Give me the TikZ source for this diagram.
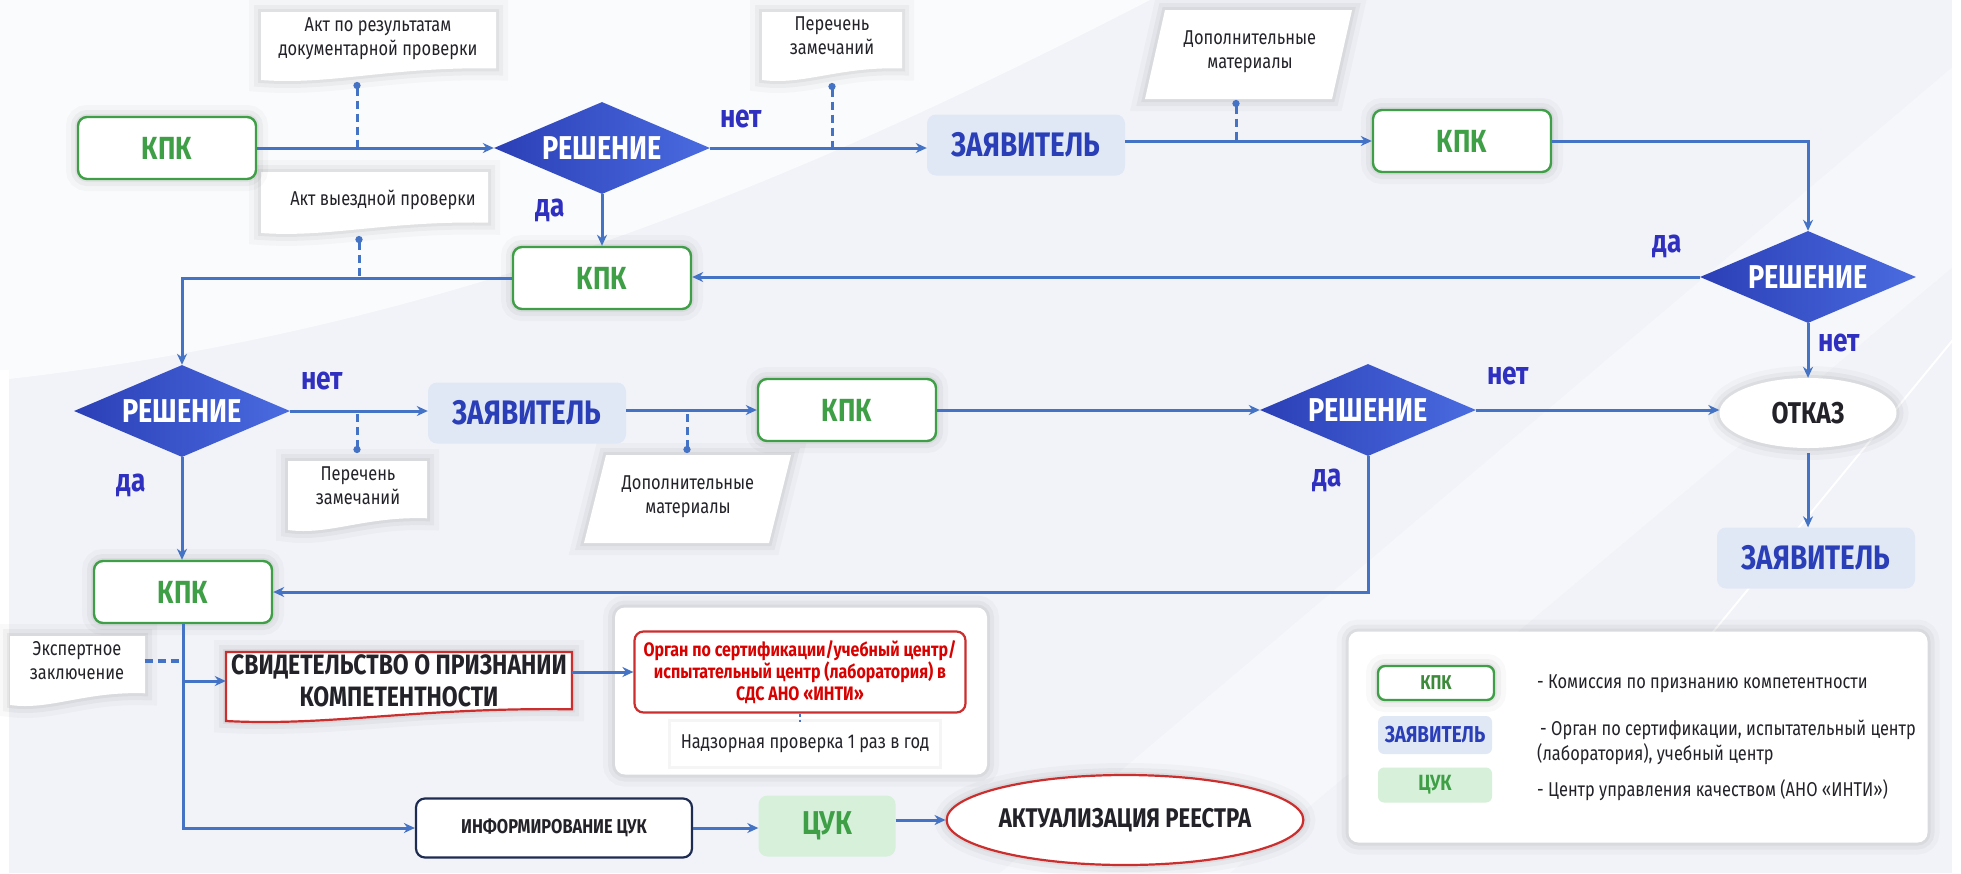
\documentclass[tikz,border=0pt]{standalone}
\usepackage{fontspec}
\setmainfont{Fira Sans}[FakeStretch=0.82]
\usetikzlibrary{shapes.geometric,arrows.meta,calc}
\pgfdeclarelayer{bg}
\pgfdeclarelayer{mid}
\pgfsetlayers{bg,mid,main}
\definecolor{bgc}{HTML}{F1F3F8}
\definecolor{lineblue}{HTML}{4472C4}
\definecolor{kgreen}{HTML}{3F9F46}
\definecolor{lgreen}{HTML}{3C8A3A}
\definecolor{zvfill}{HTML}{E1E8F5}
\definecolor{zvtext}{HTML}{2A3EB8}
\definecolor{labblue}{HTML}{2F2FC0}
\definecolor{dleft}{HTML}{2B3FB6}
\definecolor{dright}{HTML}{4A6BE0}
\definecolor{cukfill}{HTML}{D6F0DA}
\definecolor{redb}{HTML}{CC2E2E}
\definecolor{navy}{HTML}{1F2C52}
\definecolor{txt}{HTML}{222228}
\newcommand{\docbg}[5]{%
  \path[#5] (#1,#2) -- (#3,#2) -- (#3,{#4-0.17*(#4-#2)})
    .. controls ({#1+0.55*(#3-#1)},{#4-0.2*(#4-#2)}) and ({#1+0.3*(#3-#1)},{#4+0.08*(#4-#2)}) .. (#1,#4) -- cycle;}
\newcommand{\parabg}[6]{%
  \path[#6] (#1,#2) -- (#3,#2) -- ({#3-#5},#4) -- ({#1-#5},#4) -- cycle;}
\begin{document}
\begin{tikzpicture}[x=1pt,y=-1pt,
  soft/.style={preaction={draw=black,draw opacity=0.025,line width=24pt},
               preaction={draw=black,draw opacity=0.035,line width=14pt},
               preaction={draw=black,draw opacity=0.045,line width=6pt}},
  kpk/.style={rectangle, rounded corners=9pt, draw=kgreen, line width=2.4pt, fill=white, soft,
              minimum width=178pt, minimum height=62pt, inner sep=0pt, text=kgreen,
              font=\bfseries\fontsize{32}{36}\selectfont},
  zv/.style={rectangle, rounded corners=9pt, fill=zvfill, minimum width=198pt, minimum height=61pt,
             inner sep=0pt, text=zvtext, font=\bfseries\fontsize{34}{38}\selectfont},
  dec/.style={diamond, aspect=2.35, inner sep=0pt, minimum width=216pt, minimum height=92pt,
              left color=dleft, right color=dright, text=white, font=\bfseries\fontsize{33}{36}\selectfont},
  otk/.style={ellipse, fill=white, soft, minimum width=177pt, minimum height=70pt, inner sep=0pt,
              text=txt, font=\bfseries\fontsize{30}{34}\selectfont},
  lab/.style={text=labblue, font=\bfseries\fontsize{32}{34}\selectfont, inner sep=0pt},
  note/.style={text=txt, font=\fontsize{20}{24}\selectfont, align=center, inner sep=0pt},
  legtxt/.style={text=txt, font=\fontsize{20}{25}\selectfont, align=left, inner sep=0pt, anchor=west},
  arr/.style={draw=lineblue, line width=3pt, -{Stealth[length=11pt,width=10pt]}},
  dsh/.style={draw=lineblue, line width=3pt, dash pattern=on 8pt off 5pt, {Circle[length=7pt]}-},
  panel/.style={rectangle, rounded corners=10pt, fill=white, soft, inner sep=0pt},
  cukbox/.style={rectangle, rounded corners=9pt, fill=cukfill, inner sep=0pt, text=kgreen,
                 font=\bfseries\fontsize{33}{38}\selectfont, minimum width=137pt, minimum height=61pt}
]
\useasboundingbox (0,0) rectangle (1961,873);
% ---------- background ----------
\begin{pgfonlayer}{bg}
  \fill[bgc] (0,0) rectangle (1961,873);
  \fill[white,opacity=0.7] (0,0) -- (1150,0) .. controls (800,180) and (450,330) .. (0,380) -- cycle;
  \fill[white,opacity=0.35] (1000,873) -- (1961,60) -- (1961,260) -- (1230,873) -- cycle;
  \draw[white,line width=2pt] (1690,660) -- (1961,330);
  \fill[white] (0,370) rectangle (9,873);
  \fill[white] (1952,0) rectangle (1961,873);
\end{pgfonlayer}
% ---------- note shapes ----------
\begin{pgfonlayer}{mid}
  \docbg{261}{12}{496}{80}{fill=white,soft}
  \docbg{762}{12}{902}{80}{fill=white,soft}
  \parabg{1165}{10}{1352}{99}{20}{fill=white,soft}
  \docbg{261}{172}{488}{233}{fill=white,soft}
  \docbg{288}{461}{427}{530}{fill=white,soft}
  \parabg{606}{455}{791}{543}{22}{fill=white,soft}
  \docbg{10}{636}{145}{705}{fill=white,soft}
  \docbg{226}{652}{572}{721}{fill=white,draw=redb,line width=2.2pt,soft}
\end{pgfonlayer}
% ---------- main nodes ----------
\node[kpk] (kpk1) at (167,148) {КПК};
\node[dec] (d1) at (602,148) {РЕШЕНИЕ};
\node[zv] (zv1) at (1026,145) {ЗАЯВИТЕЛЬ};
\node[kpk] (kpk2) at (1462,141) {КПК};
\node[dec] (d2) at (1808,277) {РЕШЕНИЕ};
\node[kpk] (kpk3) at (602,278) {КПК};
\node[dec] (d3) at (182,411) {РЕШЕНИЕ};
\node[zv] (zv2) at (527,413) {ЗАЯВИТЕЛЬ};
\node[kpk] (kpk4) at (847,410) {КПК};
\node[dec] (d4) at (1368,410) {РЕШЕНИЕ};
\node[otk] (otkaz) at (1808,413) {ОТКАЗ};
\node[zv] (zv3) at (1816,558) {ЗАЯВИТЕЛЬ};
\node[kpk] (kpk5) at (183,592) {КПК};
% labels
\node[lab] (l1) at (741,119) {нет};
\node[lab] (l2) at (550,210) {да};
\node[lab] (l3) at (1667,246) {да};
\node[lab] (l4) at (1839,343) {нет};
\node[lab] (l5) at (322,381) {нет};
\node[lab] (l6) at (131,485) {да};
\node[lab] (l7) at (1508,376) {нет};
\node[lab] (l8) at (1327,480) {да};
% notes
\node[note] (n1) at (378,39) {Акт по результатам\\документарной проверки};
\node[note] (n2) at (832,36) {Перечень\\замечаний};
\node[note] (n3) at (1250,52) {Дополнительные\\материалы};
\node[note] (n4) at (383,200) {Акт выездной проверки};
\node[note] (n5) at (358,486) {Перечень\\замечаний};
\node[note] (n6) at (688,497) {Дополнительные\\материалы};
\node[note, minimum width=135pt] (n7) at (77,661) {Экспертное\\заключение};
% bottom part
\node[inner sep=0pt, minimum width=346pt, align=center, text=txt,
      font=\bfseries\fontsize{28}{32}\selectfont] (svid) at (399,681) {СВИДЕТЕЛЬСТВО О ПРИЗНАНИИ\\КОМПЕТЕНТНОСТИ};
\node[panel, minimum width=372pt, minimum height=167pt] (pnl) at (801,691) {};
\node[rectangle, rounded corners=9pt, draw=redb, line width=2.2pt, fill=white, minimum width=331pt,
      minimum height=81pt, inner sep=0pt, align=center, text=red!85!black,
      font=\bfseries\fontsize{19.5}{22}\selectfont] (organ) at (800,672)
      {Орган по сертификации/учебный центр/\\испытательный центр (лаборатория) в\\СДС АНО «ИНТИ»};
\node[rectangle, fill=white, preaction={draw=black,draw opacity=0.04,line width=6pt},
      minimum width=268pt, minimum height=44pt, inner sep=0pt, text=txt,
      font=\fontsize{20}{24}\selectfont] (nadz) at (805,744) {Надзорная проверка 1 раз в год};
\node[rectangle, rounded corners=9pt, draw=navy, line width=2.2pt, fill=white, minimum width=276pt,
      minimum height=59pt, inner sep=0pt, text=txt, font=\bfseries\fontsize{20}{24}\selectfont] (inf)
      at (554,828) {ИНФОРМИРОВАНИЕ ЦУК};
\node[cukbox] (cuk) at (827,826) {ЦУК};
\node[ellipse, draw=redb, line width=2.2pt, fill=white, soft, minimum width=319pt, minimum height=90pt,
      inner sep=0pt, text=txt, font=\bfseries\fontsize{27}{30}\selectfont] (akt) at (1125,820)
      {АКТУАЛИЗАЦИЯ РЕЕСТРА};
% legend
\node[panel, minimum width=579pt, minimum height=211pt] (leg) at (1638,737) {};
\node[kpk, minimum width=116pt, minimum height=34pt, rounded corners=7pt, text=lgreen,
      font=\bfseries\fontsize{20}{24}\selectfont] (lk) at (1436,683) {КПК};
\node[zv, minimum width=114pt, minimum height=38pt, rounded corners=6pt,
      font=\bfseries\fontsize{23}{26}\selectfont] (lz) at (1435,735) {ЗАЯВИТЕЛЬ};
\node[cukbox, minimum width=114pt, minimum height=35pt, rounded corners=6pt,
      font=\bfseries\fontsize{22}{26}\selectfont] (lc) at (1435,785) {ЦУК};
\node[legtxt] (t1) at (1537,684) {- Комиссия по признанию компетентности};
\node[legtxt] (t2) at (1537,742) {\hspace{3pt}- Орган по сертификации, испытательный центр\\(лаборатория), учебный центр};
\node[legtxt] (t3) at (1537,790) {- Центр управления качеством (АНО «ИНТИ»)};
% ---------- connectors ----------
\draw[arr] (kpk1.east) -- (d1.west);
\draw[arr] (d1.east) -- (d1.east -| zv1.west);
\draw[arr] (zv1.east |- kpk2.west) -- (kpk2.west);
\draw[arr] (kpk2.east) -| (d2.north);
\draw[arr] (d2.west) -- (d2.west -| kpk3.east);
\draw[arr] (d1.south) -- (kpk3.north);
\draw[arr] (kpk3.west) -| (d3.north);
\draw[arr] (d2.south) -- (otkaz.north);
\draw[arr] (d3.east) -- (d3.east -| zv2.west);
\draw[arr] (zv2.east |- kpk4.west) -- (kpk4.west);
\draw[arr] (kpk4.east) -- (d4.west);
\draw[arr] (d4.east) -- (d4.east -| otkaz.west);
\draw[arr] ([yshift=-5pt]otkaz.south) -- (otkaz.south |- zv3.north);
\draw[arr] (d3.south) -- (d3.south |- kpk5.north);
\draw[arr] (d4.south) |- (kpk5.east);
\draw[arr] (kpk5.south) |- (inf.west);
\draw[arr] (kpk5.south |- svid.west) -- (svid.west);
\draw[arr] (svid.east |- organ.west) -- (organ.west);
\draw[draw=lineblue, line width=2.4pt, dash pattern=on 3pt off 3pt] (organ.south) -- (organ.south |- nadz.north);
\draw[arr] (inf.east) -- (inf.east -| cuk.west);
\draw[arr] (cuk.east |- akt.west) -- (akt.west);
% dashed note connectors
\coordinate (a1) at (357,82);
\coordinate (a2) at (832,83);
\coordinate (a3) at (1236,100);
\coordinate (a4) at (359,236);
\coordinate (a5) at (357,453);
\coordinate (a6) at (687,453);
\draw[dsh] (a1) -- (a1 |- d1.east);
\draw[dsh] (a2) -- (a2 |- d1.east);
\draw[dsh] (a3) -- (a3 |- kpk2.west);
\draw[dsh] (a4) -- (a4 |- kpk3.west);
\draw[dsh] (a5) -- (a5 |- d3.east);
\draw[dsh] (a6) -- (a6 |- kpk4.west);
\draw[draw=lineblue, line width=3.4pt, dash pattern=on 8pt off 5pt] (n7.east) -- (n7.east -| kpk5.south);
\end{tikzpicture}
\end{document}
